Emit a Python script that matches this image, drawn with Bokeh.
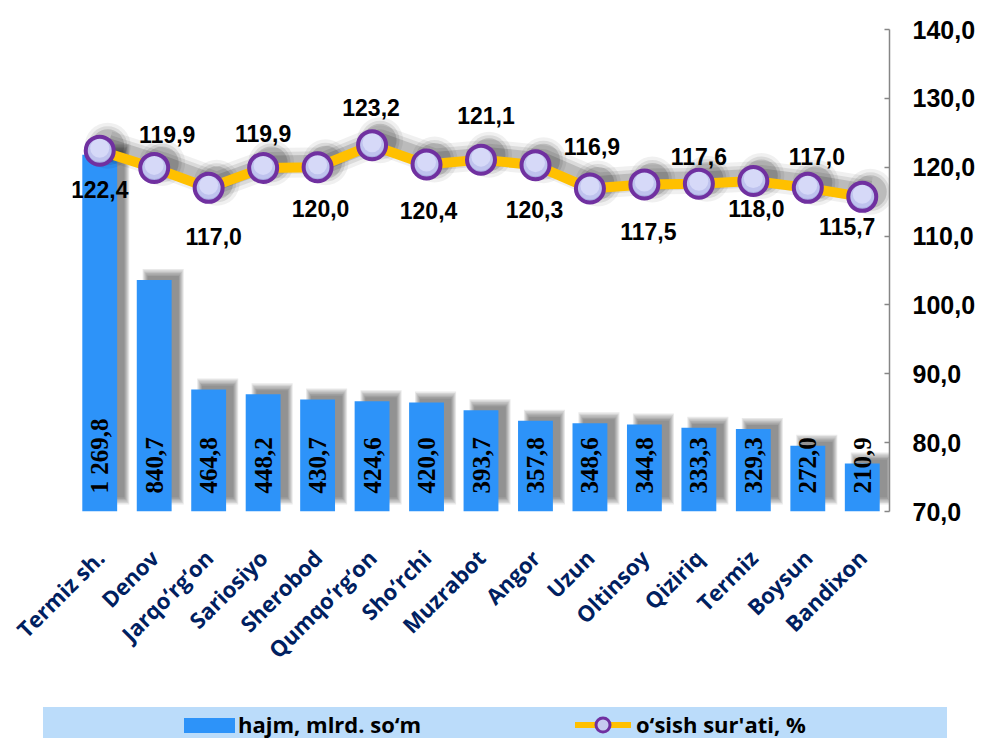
import math
from bokeh.plotting import figure
from bokeh.models import ColumnDataSource, Range1d, FactorRange, FixedTicker, Div
from bokeh.layouts import column
from bokeh.transform import dodge
from bokeh.core.properties import value
from bokeh.embed import file_html
from bokeh.resources import INLINE

# ---------------- data ----------------
districts = ["Termiz sh.", "Denov", "Jarqo\u2018rg\u2018on", "Sariosiyo", "Sherobod",
             "Qumqo\u2018rg\u2018on", "Sho\u2018rchi", "Muzrabot", "Angor", "Uzun",
             "Oltinsoy", "Qiziriq", "Termiz", "Boysun", "Bandixon"]
volume = [1269.8, 840.7, 464.8, 448.2, 430.7, 424.6, 420.0, 393.7, 357.8, 348.6,
          344.8, 333.3, 329.3, 272.0, 210.9]
growth = [122.4, 119.9, 117.0, 119.9, 120.0, 123.2, 120.4, 121.1, 120.3, 116.9,
          117.5, 117.6, 118.0, 117.0, 115.7]
rate_ticks = [70, 80, 90, 100, 110, 120, 130, 140]
rate_tick_labels = ["70,0", "80,0", "90,0", "100,0", "110,0", "120,0", "130,0", "140,0"]
bar_series_name = "hajm, mlrd. so\u2018m"
line_series_name = "o\u2018sish sur'ati, %"

# ---------------- style ----------------
BAR_COLOR = "#2D93F9"
LINE_COLOR = "#FFC000"
MARK_LINE = "#7030A0"
MARK_FILL = "#C6CAF0"
MARK_DARK = "#A7ACE0"
MARK_MID = "#BFC3EE"
MARK_LIGHT = "#D6D9F8"
CAT_COLOR = "#002060"
BAND_COLOR = "#BBDCFA"
VOL_MIN, VOL_MAX = 46, 1700
RATE_MIN, RATE_MAX = 70, 140
FIG_W, FIG_H = 983, 707
LEG_H = 31
B_LEFT, B_RIGHT, B_TOP, B_BOTTOM = 72, 94, 29, 196
FRAME_H = FIG_H - B_TOP - B_BOTTOM
FRAME_W = FIG_W - B_LEFT - B_RIGHT
px_vol = FRAME_H / (VOL_MAX - VOL_MIN)
px_rate = FRAME_H / (RATE_MAX - RATE_MIN)
px_cat = FRAME_W / len(districts)
# per-point label offsets (px, +down) and horizontal nudges
lab_dy = [39, -33, 49, -34, 41, -38, 46, -44, 44, -42, 47, -27, 28, -31, 30]
lab_dx = [0, 13, 5, 0, 3, -1, 2, 5, -1, 2, 4, 0, 3, 9, -15]


def fmt_vol(v):
    s = f"{v:,.1f}"
    return s.replace(",", " ").replace(".", ",")


def fmt_rate(v):
    return f"{v:.1f}".replace(".", ",")


src = ColumnDataSource(dict(
    cat=districts,
    vol=volume,
    rate=growth,
    vol_lab=[fmt_vol(v) for v in volume],
    rate_lab=[fmt_rate(v) for v in growth],
    lab_dx=lab_dx,
    lab_dy=lab_dy,
    vol_lab_y=[VOL_MIN + 18 / px_vol for _ in volume],
    rate_sh=[g + 5 / px_rate for g in growth],
    rate_hl1=[g + 1 / px_rate for g in growth],
    rate_hl2=[g + 2.5 / px_rate for g in growth],
))

p = figure(width=FIG_W, height=FIG_H, x_range=FactorRange(*districts),
           y_range=Range1d(RATE_MIN, RATE_MAX), y_axis_location="right",
           toolbar_location=None, output_backend="svg",
           min_border_left=B_LEFT, min_border_right=B_RIGHT,
           min_border_top=B_TOP, min_border_bottom=B_BOTTOM)
p.extra_y_ranges = {"vol": Range1d(VOL_MIN, VOL_MAX)}
p.outline_line_color = None
p.xgrid.visible = False
p.ygrid.visible = False
p.background_fill_color = "white"
p.border_fill_color = "white"

# bar shadows (soft, offset up-right)
sh_dx = 9 / px_cat
for k in range(6):
    sh_src = ColumnDataSource(dict(
        cat=districts,
        top=[v + (4 + k * 1.4) / px_vol for v in volume],
        bot=[VOL_MIN + (14 - k * 1.4) / px_vol for v in volume],
    ))
    p.vbar(x=dodge("cat", sh_dx, range=p.x_range), top="top", bottom="bot",
           width=0.58 + 0.035 * k, source=sh_src,
           fill_color="black", fill_alpha=0.085, line_color=None, y_range_name="vol")

bars = p.vbar(x="cat", top="vol", bottom=VOL_MIN, width=0.64, source=src,
              fill_color=BAR_COLOR, line_color=None, y_range_name="vol")

p.text(x="cat", y="vol_lab_y", text="vol_lab", source=src, y_range_name="vol",
       angle=math.pi / 2, text_align="left", text_baseline="middle",
       text_font=value("Liberation Serif"), text_font_style="bold",
       text_font_size="25px", text_color="black")

# line shadow (soft, offset up-right)
for w, a in [(30, 0.06), (22, 0.09), (15, 0.14)]:
    p.line(x=dodge("cat", 8 / px_cat, range=p.x_range), y="rate_sh", source=src,
           line_color="black", line_alpha=a, line_width=w, line_join="round")
for s, a in [(46, 0.06), (39, 0.09), (33, 0.14)]:
    p.scatter(x=dodge("cat", 8 / px_cat, range=p.x_range), y="rate_sh", source=src,
              size=s, fill_color="black", fill_alpha=a, line_color=None)

line = p.line(x="cat", y="rate", source=src, line_color=LINE_COLOR, line_width=10)
marks = p.scatter(x="cat", y="rate", source=src, size=28, fill_color=MARK_DARK,
                  line_color=None)
p.scatter(x="cat", y="rate_hl1", source=src, size=24, fill_color=MARK_MID, line_color=None)
p.scatter(x="cat", y="rate_hl2", source=src, size=19, fill_color=MARK_LIGHT, line_color=None)
p.scatter(x="cat", y="rate", source=src, size=28, fill_alpha=0,
          line_color=MARK_LINE, line_width=4)

p.text(x="cat", y="rate", text="rate_lab", source=src,
       x_offset="lab_dx", y_offset="lab_dy",
       text_align="center", text_baseline="middle",
       text_font=value("Liberation Sans"), text_font_style="bold",
       text_font_size="23px", text_color="black")

# right axis
ax = p.yaxis[0]
ax.ticker = FixedTicker(ticks=rate_ticks)
ax.major_label_overrides = {t: l for t, l in zip(rate_ticks, rate_tick_labels)}
ax.axis_line_color = "#868686"
ax.axis_line_width = 1.5
ax.major_tick_line_color = "#868686"
ax.major_tick_line_width = 1.5
ax.major_tick_in = 5
ax.major_tick_out = 0
ax.minor_tick_line_color = None
ax.major_label_standoff = 23
ax.major_label_text_font = "Liberation Sans"
ax.major_label_text_font_style = "bold"
ax.major_label_text_font_size = "25px"
ax.major_label_text_color = "black"

# category axis
xa = p.xaxis[0]
xa.axis_line_color = None
xa.major_tick_line_color = None
xa.minor_tick_line_color = None
xa.major_label_orientation = math.pi / 4
xa.major_label_standoff = 36
xa.major_label_text_font = "Open Sans"
xa.major_label_text_font_style = "bold"
xa.major_label_text_font_size = "22px"
xa.major_label_text_color = CAT_COLOR

# ---------------- legend band ----------------
legend_html = f"""
<div style="position:relative;margin-left:43px;width:904px;height:{LEG_H}px;
            background:{BAND_COLOR};font-family:'Open Sans',sans-serif;
            font-weight:bold;font-size:22px;color:#000;white-space:nowrap;">
  <span style="position:absolute;left:141px;top:11px;width:51px;height:15px;
               background:{BAR_COLOR};"></span>
  <span style="position:absolute;left:195px;top:0px;line-height:34px;">{bar_series_name}</span>
  <svg style="position:absolute;left:532px;top:7px;" width="56" height="22">
    <line x1="0" y1="11" x2="56" y2="11" stroke="{LINE_COLOR}" stroke-width="6"/>
    <circle cx="28" cy="11" r="7" fill="{MARK_FILL}" stroke="{MARK_LINE}" stroke-width="3"/>
  </svg>
  <span style="position:absolute;left:593px;top:0px;line-height:34px;">{line_series_name}</span>
</div>
"""
legend_div = Div(text=legend_html, width=FIG_W, height=LEG_H,
                 styles={"margin": "0", "padding": "0"})

layout = column(p, legend_div, spacing=0)
open("out.html", "w").write(file_html(layout, INLINE))
